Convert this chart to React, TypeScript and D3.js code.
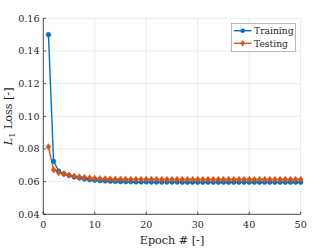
import React from "react";
import * as d3 from "d3";

const epochs: number[] = Array.from({ length: 50 }, (_, i) => i + 1);
const training: number[] = [
  0.150, 0.0725, 0.0665, 0.0648, 0.0638, 0.0628, 0.0622, 0.0616, 0.0612, 0.0608,
  0.0606, 0.0604, 0.0602, 0.0601, 0.0600, 0.0599, 0.0599, 0.0598, 0.0598, 0.0598,
  0.0597, 0.0597, 0.0597, 0.0597, 0.0597, 0.0597, 0.0596, 0.0596, 0.0596, 0.0596,
  0.0596, 0.0596, 0.0596, 0.0596, 0.0596, 0.0596, 0.0596, 0.0596, 0.0596, 0.0596,
  0.0596, 0.0596, 0.0596, 0.0596, 0.0596, 0.0596, 0.0596, 0.0596, 0.0596, 0.0596,
];
const testing: number[] = [
  0.0813, 0.0673, 0.0655, 0.0647, 0.0640, 0.0633, 0.0629, 0.0625, 0.0622, 0.0620,
  0.0618, 0.0617, 0.0616, 0.0615, 0.0615, 0.0614, 0.0614, 0.0614, 0.0614, 0.0614,
  0.0614, 0.0614, 0.0613, 0.0613, 0.0613, 0.0613, 0.0613, 0.0613, 0.0613, 0.0613,
  0.0613, 0.0613, 0.0613, 0.0613, 0.0613, 0.0613, 0.0613, 0.0613, 0.0613, 0.0613,
  0.0613, 0.0613, 0.0613, 0.0613, 0.0613, 0.0613, 0.0613, 0.0613, 0.0613, 0.0613,
];
const xTicks: number[] = [0, 10, 20, 30, 40, 50];
const yTicks: number[] = [0.04, 0.06, 0.08, 0.1, 0.12, 0.14, 0.16];
const seriesNames: string[] = ["Training", "Testing"];

const W = 332, H = 249;
const L = 43.3, R = 300.7, T = 18.3, B = 214.3;
const BLUE = "#0072BD", ORANGE = "#D95319";
const AX = "#262626";
const GRID = "#ebebeb";
const FONT = '"DejaVu Serif", "Liberation Serif", serif';

export default function App() {
  const x = d3.scaleLinear().domain([0, 50]).range([L, R]);
  const y = d3.scaleLinear().domain([0.04, 0.16]).range([B, T]);
  const line = d3.line<number>().x((_, i) => x(epochs[i])).y((d) => y(d));
  const diamond = (cx: number, cy: number, s: number) =>
    `M${cx},${cy - s}L${cx + s * 0.75},${cy}L${cx},${cy + s}L${cx - s * 0.75},${cy}Z`;

  const legX = 231.5, legY = 23.5, legW = 64, legH = 28;
  const rows = [
    { name: seriesNames[0], color: BLUE, yy: legY + 7.2, m: "o" },
    { name: seriesNames[1], color: ORANGE, yy: legY + 19.8, m: "d" },
  ];
  const ts = { fontFamily: FONT };

  return (
    <svg width={W} height={H} style={{ position: "fixed", left: 0, top: 0, background: "#fff", fontFamily: FONT }}>
      <rect x={0} y={0} width={W} height={H} fill="#fff" />
      {xTicks.map((t) => (
        <line key={"gx" + t} x1={x(t)} x2={x(t)} y1={T} y2={B} stroke={GRID} strokeWidth={1} />
      ))}
      {yTicks.map((t) => (
        <line key={"gy" + t} x1={L} x2={R} y1={y(t)} y2={y(t)} stroke={GRID} strokeWidth={1} />
      ))}
      <line x1={L} x2={L} y1={T} y2={B} stroke={AX} strokeWidth={0.8} />
      <line x1={L} x2={R} y1={B} y2={B} stroke={AX} strokeWidth={0.8} />
      {xTicks.map((t) => (
        <g key={"xt" + t}>
          <line x1={x(t)} x2={x(t)} y1={B} y2={B - 2.6} stroke={AX} strokeWidth={0.8} />
          <text style={ts} x={x(t)} y={227.8} fontSize={9.6} textAnchor="middle" fill={AX}>{t}</text>
        </g>
      ))}
      {yTicks.map((t) => (
        <g key={"yt" + t}>
          <line x1={L} x2={L + 2.6} y1={y(t)} y2={y(t)} stroke={AX} strokeWidth={0.8} />
          <text style={ts} x={L - 3.8} y={y(t) + 3.5} fontSize={9.6} textAnchor="end" fill={AX}>{t.toFixed(2)}</text>
        </g>
      ))}
      <text style={ts} x={(L + R) / 2} y={243.5} fontSize={11.2} textAnchor="middle" fill={AX}>Epoch # [-]</text>
      <text style={ts} transform={`translate(12,${(T + B) / 2}) rotate(-90)`} fontSize={11.2} textAnchor="middle" fill={AX}>
        <tspan fontStyle="italic">L</tspan>
        <tspan fontSize={8} dy={3}>1</tspan>
        <tspan dy={-3}> Loss [-]</tspan>
      </text>
      <path d={line(training) || ""} fill="none" stroke={BLUE} strokeWidth={1.4} />
      <path d={line(testing) || ""} fill="none" stroke={ORANGE} strokeWidth={1.4} />
      {training.map((v, i) => (
        <circle key={"tr" + i} cx={x(epochs[i])} cy={y(v)} r={2.3} fill={BLUE} stroke={BLUE} strokeWidth={0.6} />
      ))}
      {testing.map((v, i) => (
        <path key={"te" + i} d={diamond(x(epochs[i]), y(v), 3.2)} fill={ORANGE} stroke={ORANGE} strokeWidth={0.6} />
      ))}
      <rect x={legX} y={legY} width={legW} height={legH} fill="#fff" stroke="#a6a6a6" strokeWidth={0.8} />
      {rows.map((r) => (
        <g key={r.name}>
          <line x1={legX + 2.5} x2={legX + 20} y1={r.yy} y2={r.yy} stroke={r.color} strokeWidth={1.4} />
          {r.m === "o" ? (
            <circle cx={legX + 11.2} cy={r.yy} r={2.3} fill={r.color} />
          ) : (
            <path d={diamond(legX + 11.2, r.yy, 3.2)} fill={r.color} />
          )}
          <text style={ts} x={legX + 22.5} y={r.yy + 3.5} fontSize={9.2} fill={AX}>{r.name}</text>
        </g>
      ))}
    </svg>
  );
}
